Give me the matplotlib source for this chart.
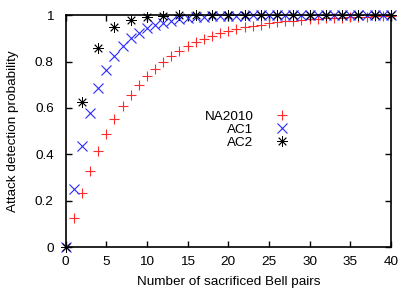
import matplotlib
matplotlib.use("Agg")
import matplotlib.pyplot as plt

plt.rcParams['font.family'] = ['Liberation Sans', 'DejaVu Sans']

x_na = list(range(0, 41))
na2010 = [0, .125, .234, .330, .414, .487, .551, .607, .656, .699, .737, .770, .799, .824,
          .846, .865, .882, .897, .910, .921, .931, .939, .947, .954, .959, .965, .969, .973,
          .976, .979, .982, .984, .986, .988, .989, .991, .992, .993, .994, .995, .995]
x_ac1 = list(range(0, 41))
ac1 = [0, .25, .438, .578, .684, .763, .822, .867, .900, .925, .944, .958, .968, .976, .982,
       .987, .990, .992, .994, .996, .997, .998, .998, .999, .999, .999, .9994, .9996, .9997,
       .9998, 1, 1, 1, 1, 1, 1, 1, 1, 1, 1, 1]
x_ac2 = list(range(0, 41, 2))
ac2 = [0, .625, .859, .947, .980, .993, .997, .999, 1, 1, 1, 1, 1, 1, 1, 1, 1, 1, 1, 1, 1]

xticks = [0, 5, 10, 15, 20, 25, 30, 35, 40]
yticks = [0, 0.2, 0.4, 0.6, 0.8, 1]
yticklabels = ["0", "0.2", "0.4", "0.6", "0.8", "1"]

FS = 9.7

fig = plt.figure(figsize=(4.15, 2.9), dpi=100)
ax = fig.add_axes([0.158, 0.147, 0.784, 0.801])

ax.plot(x_na, na2010, linestyle='none', marker='+', color='#ff2a2a', markersize=7.4,
        markeredgewidth=0.8, label='NA2010', clip_on=False)
ax.plot(x_ac1, ac1, linestyle='none', marker='x', color='#2a2aff', markersize=7.0,
        markeredgewidth=0.8, label='AC1', clip_on=False)
ax.plot(x_ac2, ac2, linestyle='none', marker=(8, 2, 0), color='#000000', markersize=7.6,
        markeredgewidth=0.6, label='AC2', clip_on=False)

ax.set_xlim(0, 40)
ax.set_ylim(0, 1)
ax.set_xticks(xticks)
ax.set_xticklabels([str(t) for t in xticks])
ax.set_yticks(yticks)
ax.set_yticklabels(yticklabels)
ax.tick_params(direction='in', top=True, right=True, length=4.5, width=1, labelsize=FS)
ax.tick_params(axis='x', pad=6.5)
ax.tick_params(axis='y', pad=8.5)
for s in ax.spines.values():
    s.set_linewidth(1.2)

ax.set_xlabel('Number of sacrificed Bell pairs', fontsize=FS, va='center')
ax.set_ylabel('Attack detection probability', fontsize=FS, va='center')
ax.xaxis.set_label_coords(0.5, -0.15)
ax.yaxis.set_label_coords(-0.163, 0.5)

leg = ax.legend(markerfirst=False, frameon=False, fontsize=FS, handlelength=1.5,
                handletextpad=1.4, labelspacing=0.05, borderpad=0, borderaxespad=0,
                loc='upper right', bbox_to_anchor=(0.697, 0.589))

fig.savefig('out.png', dpi=100)
